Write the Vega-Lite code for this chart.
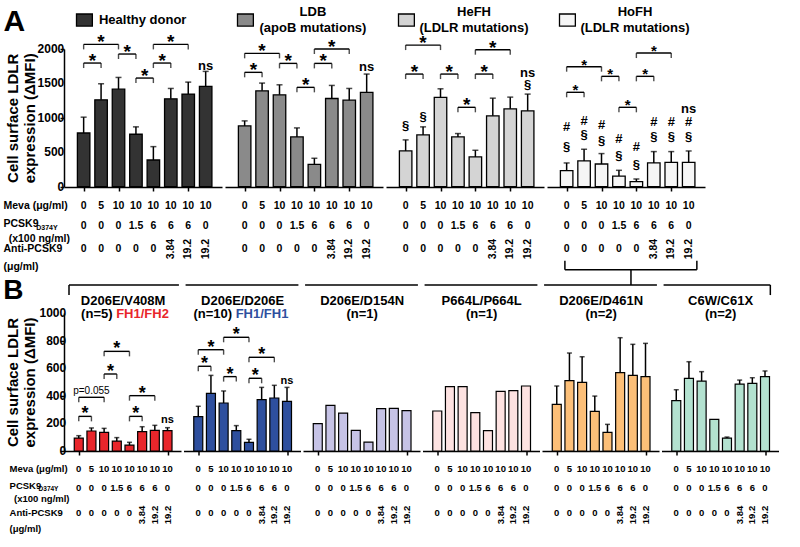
{
"$schema": "https://vega.github.io/schema/vega-lite/v6.json",
"background": "white",
"padding": {"left": 3, "top": 6, "right": 5, "bottom": 5},
"config": {
 "view": {"stroke": null},
 "font": "Liberation Sans",
 "text": {"font": "Liberation Sans", "fontWeight": "bold", "color": "black"},
 "tick": {"color": "black"},
 "rule": {"color": "black"},
 "axis": {"grid": false, "domainColor": "black", "tickColor": "black", "labelColor": "black", "titleColor": "black", "labelFont": "Liberation Sans", "titleFont": "Liberation Sans", "labelFontWeight": "bold", "labelFontSize": 12, "domainWidth": 1.5, "tickWidth": 1.5, "tickSize": 4, "labelPadding": 1, "titleFontSize": 15, "titleFontWeight": "bold", "titleLineHeight": 17, "titlePadding": 22}
},
"resolve": {"scale": {"color": "independent"}},
"datasets": {
 "cond": [
  {"i":1,"m":"0","p":"0","a":"0"},{"i":2,"m":"5","p":"0","a":"0"},{"i":3,"m":"10","p":"0","a":"0"},{"i":4,"m":"10","p":"1.5","a":"0"},
  {"i":5,"m":"10","p":"6","a":"0"},{"i":6,"m":"10","p":"6","a":"3.84"},{"i":7,"m":"10","p":"6","a":"19.2"},{"i":8,"m":"10","p":"0","a":"19.2"}
 ],
 "A": [
  {"k":"bar","g":1,"i":1,"v":780,"hi":1010},{"k":"bar","g":1,"i":2,"v":1262,"hi":1495},{"k":"bar","g":1,"i":3,"v":1417,"hi":1587},{"k":"bar","g":1,"i":4,"v":762,"hi":869},
  {"k":"bar","g":1,"i":5,"v":388,"hi":582},{"k":"bar","g":1,"i":6,"v":1277,"hi":1427},{"k":"bar","g":1,"i":7,"v":1345,"hi":1519},{"k":"bar","g":1,"i":8,"v":1456,"hi":1675},
  {"k":"bar","g":2,"i":1,"v":883,"hi":956},{"k":"bar","g":2,"i":2,"v":1393,"hi":1505},{"k":"bar","g":2,"i":3,"v":1335,"hi":1480},{"k":"bar","g":2,"i":4,"v":723,"hi":854},
  {"k":"bar","g":2,"i":5,"v":325,"hi":413},{"k":"bar","g":2,"i":6,"v":1281,"hi":1471},{"k":"bar","g":2,"i":7,"v":1257,"hi":1427},{"k":"bar","g":2,"i":8,"v":1369,"hi":1636},
  {"k":"bar","g":3,"i":1,"v":519,"hi":680},{"k":"bar","g":3,"i":2,"v":752,"hi":869},{"k":"bar","g":3,"i":3,"v":1296,"hi":1422},{"k":"bar","g":3,"i":4,"v":723,"hi":772},
  {"k":"bar","g":3,"i":5,"v":432,"hi":529},{"k":"bar","g":3,"i":6,"v":1029,"hi":1286},{"k":"bar","g":3,"i":7,"v":1131,"hi":1301},{"k":"bar","g":3,"i":8,"v":1102,"hi":1345},
  {"k":"bar","g":4,"i":1,"v":233,"hi":345},{"k":"bar","g":4,"i":2,"v":374,"hi":544},{"k":"bar","g":4,"i":3,"v":330,"hi":481},{"k":"bar","g":4,"i":4,"v":155,"hi":238},
  {"k":"bar","g":4,"i":5,"v":73,"hi":112},{"k":"bar","g":4,"i":6,"v":345,"hi":510},{"k":"bar","g":4,"i":7,"v":354,"hi":510},{"k":"bar","g":4,"i":8,"v":354,"hi":519},
  {"k":"br","g":1,"i1":1,"i2":2,"lv":1796,"t":"*"},{"k":"br","g":1,"i1":1,"i2":3,"lv":2067,"t":"*"},{"k":"br","g":1,"i1":3,"i2":4,"lv":1927,"t":"*"},
  {"k":"br","g":1,"i1":4,"i2":5,"lv":1578,"t":"*"},{"k":"br","g":1,"i1":5,"i2":6,"lv":1796,"t":"*"},{"k":"br","g":1,"i1":5,"i2":7,"lv":2067,"t":"*"},
  {"k":"br","g":2,"i1":1,"i2":2,"lv":1661,"t":"*"},{"k":"br","g":2,"i1":1,"i2":3,"lv":1937,"t":"*"},{"k":"br","g":2,"i1":3,"i2":4,"lv":1791,"t":"*"},
  {"k":"br","g":2,"i1":4,"i2":5,"lv":1443,"t":"*"},{"k":"br","g":2,"i1":5,"i2":6,"lv":1791,"t":"*"},{"k":"br","g":2,"i1":5,"i2":7,"lv":2000,"t":"*"},
  {"k":"br","g":3,"i1":1,"i2":2,"lv":1636,"t":"*"},{"k":"br","g":3,"i1":1,"i2":3,"lv":2057,"t":"*"},{"k":"br","g":3,"i1":3,"i2":4,"lv":1636,"t":"*"},
  {"k":"br","g":3,"i1":4,"i2":5,"lv":1153,"t":"*"},{"k":"br","g":3,"i1":5,"i2":6,"lv":1636,"t":"*"},{"k":"br","g":3,"i1":5,"i2":7,"lv":1990,"t":"*"},
  {"k":"br","g":4,"i1":1,"i2":2,"lv":1371,"t":"*"},{"k":"br","g":4,"i1":1,"i2":3,"lv":1743,"t":"*"},{"k":"br","g":4,"i1":3,"i2":4,"lv":1603,"t":"*"},
  {"k":"br","g":4,"i1":4,"i2":5,"lv":1153,"t":"*"},{"k":"br","g":4,"i1":5,"i2":6,"lv":1603,"t":"*"},{"k":"br","g":4,"i1":5,"i2":7,"lv":1941,"t":"*"},
  {"k":"an","g":1,"i":8,"lv":1757,"t":"ns"},{"k":"an","g":2,"i":8,"lv":1734,"t":"ns"},
  {"k":"an","g":3,"i":1,"lv":877,"t":"§"},{"k":"an","g":3,"i":2,"lv":1008,"t":"§"},{"k":"an","g":3,"i":8,"lv":1651,"t":"ns"},{"k":"an","g":3,"i":8,"lv":1481,"t":"§"},
  {"k":"an","g":4,"i":1,"lv":862,"t":"#"},{"k":"an","g":4,"i":1,"lv":572,"t":"§"},{"k":"an","g":4,"i":2,"lv":958,"t":"#"},{"k":"an","g":4,"i":2,"lv":751,"t":"§"},
  {"k":"an","g":4,"i":3,"lv":896,"t":"#"},{"k":"an","g":4,"i":3,"lv":668,"t":"§"},{"k":"an","g":4,"i":4,"lv":693,"t":"#"},{"k":"an","g":4,"i":4,"lv":441,"t":"§"},
  {"k":"an","g":4,"i":5,"lv":572,"t":"#"},{"k":"an","g":4,"i":5,"lv":315,"t":"§"},{"k":"an","g":4,"i":6,"lv":935,"t":"#"},{"k":"an","g":4,"i":6,"lv":717,"t":"§"},
  {"k":"an","g":4,"i":7,"lv":935,"t":"#"},{"k":"an","g":4,"i":7,"lv":717,"t":"§"},{"k":"an","g":4,"i":8,"lv":1128,"t":"ns"},{"k":"an","g":4,"i":8,"lv":935,"t":"#"},{"k":"an","g":4,"i":8,"lv":717,"t":"§"},
  {"k":"lg","g":1,"t1":"Healthy donor","t2":""},{"k":"lg","g":2,"t1":"LDB","t2":"(apoB mutations)"},
  {"k":"lg","g":3,"t1":"HeFH","t2":"(LDLR mutations)"},{"k":"lg","g":4,"t1":"HoFH","t2":"(LDLR mutations)"}
 ],
 "B": [
  {"k":"bar","g":1,"i":1,"v":94,"hi":111},{"k":"bar","g":1,"i":2,"v":145,"hi":167},{"k":"bar","g":1,"i":3,"v":135,"hi":164},{"k":"bar","g":1,"i":4,"v":72,"hi":97},
  {"k":"bar","g":1,"i":5,"v":43,"hi":63},{"k":"bar","g":1,"i":6,"v":140,"hi":176},{"k":"bar","g":1,"i":7,"v":150,"hi":186},{"k":"bar","g":1,"i":8,"v":147,"hi":169},
  {"k":"bar","g":2,"i":1,"v":249,"hi":324},{"k":"bar","g":2,"i":2,"v":418,"hi":548},{"k":"bar","g":2,"i":3,"v":348,"hi":435},{"k":"bar","g":2,"i":4,"v":147,"hi":184},
  {"k":"bar","g":2,"i":5,"v":63,"hi":85},{"k":"bar","g":2,"i":6,"v":372,"hi":461},{"k":"bar","g":2,"i":7,"v":384,"hi":476},{"k":"bar","g":2,"i":8,"v":360,"hi":461},
  {"k":"bar","g":3,"i":1,"v":198,"hi":null},{"k":"bar","g":3,"i":2,"v":331,"hi":null},{"k":"bar","g":3,"i":3,"v":275,"hi":null},{"k":"bar","g":3,"i":4,"v":150,"hi":null},
  {"k":"bar","g":3,"i":5,"v":65,"hi":null},{"k":"bar","g":3,"i":6,"v":307,"hi":null},{"k":"bar","g":3,"i":7,"v":309,"hi":null},{"k":"bar","g":3,"i":8,"v":292,"hi":null},
  {"k":"bar","g":4,"i":1,"v":290,"hi":null},{"k":"bar","g":4,"i":2,"v":466,"hi":null},{"k":"bar","g":4,"i":3,"v":466,"hi":null},{"k":"bar","g":4,"i":4,"v":278,"hi":null},
  {"k":"bar","g":4,"i":5,"v":147,"hi":null},{"k":"bar","g":4,"i":6,"v":432,"hi":null},{"k":"bar","g":4,"i":7,"v":437,"hi":null},{"k":"bar","g":4,"i":8,"v":471,"hi":null},
  {"k":"bar","g":5,"i":1,"v":338,"hi":471},{"k":"bar","g":5,"i":2,"v":510,"hi":710},{"k":"bar","g":5,"i":3,"v":497,"hi":683},{"k":"bar","g":5,"i":4,"v":287,"hi":398},
  {"k":"bar","g":5,"i":5,"v":135,"hi":193},{"k":"bar","g":5,"i":6,"v":568,"hi":821},{"k":"bar","g":5,"i":7,"v":548,"hi":773},{"k":"bar","g":5,"i":8,"v":539,"hi":780},
  {"k":"bar","g":6,"i":1,"v":365,"hi":444},{"k":"bar","g":6,"i":2,"v":526,"hi":647},{"k":"bar","g":6,"i":3,"v":507,"hi":575},{"k":"bar","g":6,"i":4,"v":229,"hi":null},
  {"k":"bar","g":6,"i":5,"v":94,"hi":101},{"k":"bar","g":6,"i":6,"v":485,"hi":514},{"k":"bar","g":6,"i":7,"v":490,"hi":531},{"k":"bar","g":6,"i":8,"v":539,"hi":580},
  {"k":"br","g":1,"i1":1,"i2":2,"lv":251,"t":"*"},{"k":"br","g":1,"i1":1,"i2":3,"lv":389,"t":"p=0.055"},{"k":"br","g":1,"i1":3,"i2":4,"lv":558,"t":"*"},
  {"k":"br","g":1,"i1":3,"i2":5,"lv":722,"t":"*"},{"k":"br","g":1,"i1":5,"i2":6,"lv":251,"t":"*"},{"k":"br","g":1,"i1":5,"i2":7,"lv":401,"t":"*"},
  {"k":"br","g":2,"i1":1,"i2":2,"lv":614,"t":"*"},{"k":"br","g":2,"i1":1,"i2":3,"lv":734,"t":"*"},{"k":"br","g":2,"i1":3,"i2":5,"lv":824,"t":"*"},
  {"k":"br","g":2,"i1":3,"i2":4,"lv":539,"t":"*"},{"k":"br","g":2,"i1":5,"i2":6,"lv":527,"t":"*"},{"k":"br","g":2,"i1":5,"i2":7,"lv":679,"t":"*"},
  {"k":"an","g":1,"i":8,"lv":225,"t":"ns"},{"k":"an","g":2,"i":8,"lv":510,"t":"ns"},
  {"k":"lb","g":1,"t1":"D206E/V408M","n":"(n=5)","fh":"FH1/FH2"},{"k":"lb","g":2,"t1":"D206E/D206E","n":"(n=10)","fh":"FH1/FH1"},
  {"k":"lb","g":3,"t1":"D206E/D154N","n":"(n=1)","fh":""},{"k":"lb","g":4,"t1":"P664L/P664L","n":"(n=1)","fh":""},
  {"k":"lb","g":5,"t1":"D206E/D461N","n":"(n=2)","fh":""},{"k":"lb","g":6,"t1":"C6W/C61X","n":"(n=2)","fh":""}
 ]
},
"spacing": 264,
"bounds": "flush",
"vconcat": [
 {
  "data": {"name": "A"},
  "transform": [{"lookup": "i", "from": {"data": {"name": "cond"}, "key": "i", "fields": ["m", "p", "a"]}}],
  "facet": {"column": {"field": "g", "type": "ordinal", "header": null}},
  "spacing": 3,
  "bounds": "flush",
  "spec": {
   "width": 158, "height": 137.7,
   "layer": [
    {"transform": [{"filter": "datum.k == 'bar'"}],
     "mark": {"type": "bar", "width": 12.5, "stroke": "black", "strokeWidth": 1.3},
     "encoding": {
      "x": {"field": "i", "type": "quantitative", "scale": {"domain": [0.16, 8.65], "nice": false, "zero": false}, "axis": {"values": [1,2,3,4,5,6,7,8], "labels": false, "title": null}},
      "y": {"field": "v", "type": "quantitative", "scale": {"domain": [0, 2000], "nice": false}, "axis": {"values": [0,500,1000,1500,2000], "tickCount": 4, "labels": false, "title": ["Cell surface LDLR", "expression (ΔMFI)"]}},
      "color": {"field": "g", "type": "nominal", "scale": {"domain": [1,2,3,4], "range": ["#333333", "#8a8a8a", "#d4d4d4", "#f6f6f6"]}, "legend": null}
     }},
    {"transform": [{"filter": "datum.k == 'lg' && datum.g == 1"}],
     "mark": {"type": "text", "baseline": "middle", "align": "right", "fontSize": 12, "lineHeight": 34.425},
     "encoding": {"x": {"datum": -0.11}, "y": {"datum": 2000}, "text": {"value": ["2000", "1500", "1000", "500", "0"]}}},
    {"transform": [{"filter": "datum.k == 'bar'"}],
     "mark": {"type": "rule", "strokeWidth": 1.5},
     "encoding": {"x": {"field": "i", "type": "quantitative"}, "y": {"field": "v", "type": "quantitative"}, "y2": {"field": "hi"}}},
    {"transform": [{"filter": "datum.k == 'bar'"}],
     "mark": {"type": "tick", "orient": "horizontal", "size": 6, "thickness": 1.5},
     "encoding": {"x": {"field": "i", "type": "quantitative"}, "y": {"field": "hi", "type": "quantitative"}}},
    {"transform": [{"filter": "datum.k == 'br'"}],
     "mark": {"type": "rule", "strokeWidth": 1.4},
     "encoding": {"x": {"field": "i1", "type": "quantitative"}, "x2": {"field": "i2"}, "y": {"field": "lv", "type": "quantitative"}}},
    {"transform": [{"filter": "datum.k == 'br'"}],
     "mark": {"type": "tick", "orient": "vertical", "size": 5, "thickness": 1.4, "yOffset": 2.5},
     "encoding": {"x": {"field": "i1", "type": "quantitative"}, "y": {"field": "lv", "type": "quantitative"}}},
    {"transform": [{"filter": "datum.k == 'br'"}],
     "mark": {"type": "tick", "orient": "vertical", "size": 5, "thickness": 1.4, "yOffset": 2.5},
     "encoding": {"x": {"field": "i2", "type": "quantitative"}, "y": {"field": "lv", "type": "quantitative"}}},
    {"transform": [{"filter": "datum.k == 'br'"}, {"calculate": "(datum.i1 + datum.i2) / 2", "as": "mid"}],
     "mark": {"type": "text", "baseline": "middle", "dy": -2},
     "encoding": {"x": {"field": "mid", "type": "quantitative"}, "y": {"field": "lv", "type": "quantitative"}, "text": {"field": "t"},
      "size": {"condition": {"test": "datum.g == 4", "value": 15}, "value": 19}}},
    {"transform": [{"filter": "datum.k == 'an'"}],
     "mark": {"type": "text", "baseline": "middle", "fontSize": 13},
     "encoding": {"x": {"field": "i", "type": "quantitative"}, "y": {"field": "lv", "type": "quantitative"}, "text": {"field": "t"}}},
    {"transform": [{"filter": "datum.k == 'bar'"}],
     "mark": {"type": "text", "baseline": "middle", "fontSize": 10.5},
     "encoding": {"x": {"field": "i", "type": "quantitative"}, "y": {"datum": -280}, "text": {"field": "m"}}},
    {"transform": [{"filter": "datum.k == 'bar'"}],
     "mark": {"type": "text", "baseline": "middle", "fontSize": 10.5},
     "encoding": {"x": {"field": "i", "type": "quantitative"}, "y": {"datum": -571}, "text": {"field": "p"}}},
    {"transform": [{"filter": "datum.k == 'bar' && datum.a == '0'"}],
     "mark": {"type": "text", "baseline": "middle", "fontSize": 10.5},
     "encoding": {"x": {"field": "i", "type": "quantitative"}, "y": {"datum": -905}, "text": {"field": "a"}}},
    {"transform": [{"filter": "datum.k == 'bar' && datum.a != '0'"}],
     "mark": {"type": "text", "baseline": "middle", "align": "center", "angle": 270, "fontSize": 10.5},
     "encoding": {"x": {"field": "i", "type": "quantitative"}, "y": {"datum": -905}, "text": {"field": "a"}}},
    {"transform": [{"filter": "datum.k == 'lg'"}],
     "mark": {"type": "rect", "stroke": "black", "strokeWidth": 1.3},
     "encoding": {"x": {"datum": 0.59}, "x2": {"datum": 1.5}, "y": {"datum": 2333}, "y2": {"datum": 2508}, "color": {"field": "g", "type": "nominal", "legend": null}}},
    {"transform": [{"filter": "datum.k == 'lg' && datum.g > 1"}],
     "mark": {"type": "text", "baseline": "middle", "fontSize": 13},
     "encoding": {"x": {"datum": 4.92}, "y": {"datum": 2537}, "text": {"field": "t1"}}},
    {"transform": [{"filter": "datum.k == 'lg' && datum.g > 1"}],
     "mark": {"type": "text", "baseline": "middle", "fontSize": 13},
     "encoding": {"x": {"datum": 4.92}, "y": {"datum": 2312}, "text": {"field": "t2"}}},
    {"transform": [{"filter": "datum.k == 'lg' && datum.g == 1"}],
     "mark": {"type": "text", "baseline": "middle", "align": "left", "fontSize": 13},
     "encoding": {"x": {"datum": 1.88}, "y": {"datum": 2420}, "text": {"field": "t1"}}},
    {"transform": [{"filter": "datum.k == 'lg' && datum.g == 1"}],
     "mark": {"type": "text", "baseline": "alphabetic", "align": "left", "fontSize": 30},
     "encoding": {"x": {"datum": -3.6}, "y": {"datum": 2261}, "text": {"value": "A"}}},
    {"transform": [{"filter": "datum.k == 'lg' && datum.g == 1"}],
     "mark": {"type": "text", "baseline": "middle", "align": "left", "fontSize": 10.5},
     "encoding": {"x": {"datum": -3.6}, "y": {"datum": -280}, "text": {"value": "Meva (μg/ml)"}}},
    {"transform": [{"filter": "datum.k == 'lg' && datum.g == 1"}],
     "mark": {"type": "text", "baseline": "middle", "align": "left", "fontSize": 10.5},
     "encoding": {"x": {"datum": -3.6}, "y": {"datum": -545}, "text": {"value": "PCSK9"}}},
    {"transform": [{"filter": "datum.k == 'lg' && datum.g == 1"}],
     "mark": {"type": "text", "baseline": "middle", "align": "left", "fontSize": 7},
     "encoding": {"x": {"datum": -1.72}, "y": {"datum": -603}, "text": {"value": "D374Y"}}},
    {"transform": [{"filter": "datum.k == 'lg' && datum.g == 1"}],
     "mark": {"type": "text", "baseline": "middle", "align": "left", "fontSize": 10.5},
     "encoding": {"x": {"datum": -3.3}, "y": {"datum": -759}, "text": {"value": "(x100 ng/ml)"}}},
    {"transform": [{"filter": "datum.k == 'lg' && datum.g == 1"}],
     "mark": {"type": "text", "baseline": "middle", "align": "left", "fontSize": 10.5},
     "encoding": {"x": {"datum": -3.6}, "y": {"datum": -905}, "text": {"value": "Anti-PCSK9"}}},
    {"transform": [{"filter": "datum.k == 'lg' && datum.g == 1"}],
     "mark": {"type": "text", "baseline": "middle", "align": "left", "fontSize": 10.5},
     "encoding": {"x": {"datum": -3.6}, "y": {"datum": -1167}, "text": {"value": "(μg/ml)"}}},
    {"transform": [{"filter": "datum.k == 'lg' && datum.g == 4"}],
     "mark": {"type": "rule", "strokeWidth": 1.5},
     "encoding": {"x": {"datum": 0.9}, "x2": {"datum": 8.47}, "y": {"datum": -1205}}},
    {"transform": [{"filter": "datum.k == 'lg' && datum.g == 4"}],
     "mark": {"type": "rule", "strokeWidth": 1.5},
     "encoding": {"x": {"datum": 0.9}, "y": {"datum": -1205}, "y2": {"datum": -1075}}},
    {"transform": [{"filter": "datum.k == 'lg' && datum.g == 4"}],
     "mark": {"type": "rule", "strokeWidth": 1.5},
     "encoding": {"x": {"datum": 8.47}, "y": {"datum": -1205}, "y2": {"datum": -1075}}},
    {"transform": [{"filter": "datum.k == 'lg' && datum.g == 4"}],
     "mark": {"type": "rule", "strokeWidth": 1.5},
     "encoding": {"x": {"datum": 4.69}, "y": {"datum": -1205}, "y2": {"datum": -1427}}}
   ]
  }
 },
 {
  "data": {"name": "B"},
  "transform": [{"lookup": "i", "from": {"data": {"name": "cond"}, "key": "i", "fields": ["m", "p", "a"]}}],
  "facet": {"column": {"field": "g", "type": "ordinal", "header": null}},
  "spacing": 2.5,
  "bounds": "flush",
  "spec": {
   "width": 117, "height": 138,
   "layer": [
    {"transform": [{"filter": "datum.k == 'bar'"}],
     "mark": {"type": "bar", "width": 9, "stroke": "black", "strokeWidth": 1.2},
     "encoding": {
      "x": {"field": "i", "type": "quantitative", "scale": {"domain": [0.23, 8.67], "nice": false, "zero": false}, "axis": {"values": [1,2,3,4,5,6,7,8], "labels": false, "title": null}},
      "y": {"field": "v", "type": "quantitative", "scale": {"domain": [0, 1000], "nice": false}, "axis": {"values": [0,200,400,600,800,1000], "tickCount": 5, "labels": false, "title": ["Cell surface LDLR", "expression (ΔMFI)"]}},
      "color": {"field": "g", "type": "nominal", "scale": {"domain": [1,2,3,4,5,6], "range": ["#e8262b", "#2e4f9e", "#c6c3e6", "#fde2e1", "#fcbf78", "#b3e2d0"]}, "legend": null}
     }},
    {"transform": [{"filter": "datum.k == 'lb' && datum.g == 1"}],
     "mark": {"type": "text", "baseline": "middle", "align": "right", "fontSize": 12, "lineHeight": 27.6},
     "encoding": {"x": {"datum": 0.01}, "y": {"datum": 1000}, "text": {"value": ["1000", "800", "600", "400", "200", "0"]}}},
    {"transform": [{"filter": "datum.k == 'bar' && datum.hi != null"}],
     "mark": {"type": "rule", "strokeWidth": 1.5},
     "encoding": {"x": {"field": "i", "type": "quantitative"}, "y": {"field": "v", "type": "quantitative"}, "y2": {"field": "hi"}}},
    {"transform": [{"filter": "datum.k == 'bar' && datum.hi != null"}],
     "mark": {"type": "tick", "orient": "horizontal", "size": 5, "thickness": 1.5},
     "encoding": {"x": {"field": "i", "type": "quantitative"}, "y": {"field": "hi", "type": "quantitative"}}},
    {"transform": [{"filter": "datum.k == 'br'"}],
     "mark": {"type": "rule", "strokeWidth": 1.4},
     "encoding": {"x": {"field": "i1", "type": "quantitative"}, "x2": {"field": "i2"}, "y": {"field": "lv", "type": "quantitative"}}},
    {"transform": [{"filter": "datum.k == 'br'"}],
     "mark": {"type": "tick", "orient": "vertical", "size": 5, "thickness": 1.4, "yOffset": 2.5},
     "encoding": {"x": {"field": "i1", "type": "quantitative"}, "y": {"field": "lv", "type": "quantitative"}}},
    {"transform": [{"filter": "datum.k == 'br'"}],
     "mark": {"type": "tick", "orient": "vertical", "size": 5, "thickness": 1.4, "yOffset": 2.5},
     "encoding": {"x": {"field": "i2", "type": "quantitative"}, "y": {"field": "lv", "type": "quantitative"}}},
    {"transform": [{"filter": "datum.k == 'br' && datum.t == '*'"}, {"calculate": "(datum.i1 + datum.i2) / 2", "as": "mid"}],
     "mark": {"type": "text", "baseline": "middle", "dy": -2, "fontSize": 18},
     "encoding": {"x": {"field": "mid", "type": "quantitative"}, "y": {"field": "lv", "type": "quantitative"}, "text": {"field": "t"}}},
    {"transform": [{"filter": "datum.k == 'br' && datum.t != '*'"}, {"calculate": "(datum.i1 + datum.i2) / 2", "as": "mid"}],
     "mark": {"type": "text", "baseline": "middle", "dy": -6, "fontSize": 10, "fontWeight": "normal"},
     "encoding": {"x": {"field": "mid", "type": "quantitative"}, "y": {"field": "lv", "type": "quantitative"}, "text": {"field": "t"}}},
    {"transform": [{"filter": "datum.k == 'an'"}],
     "mark": {"type": "text", "baseline": "middle", "fontSize": 11},
     "encoding": {"x": {"field": "i", "type": "quantitative"}, "y": {"field": "lv", "type": "quantitative"}, "text": {"field": "t"}}},
    {"transform": [{"filter": "datum.k == 'bar'"}],
     "mark": {"type": "text", "baseline": "middle", "fontSize": 9.5},
     "encoding": {"x": {"field": "i", "type": "quantitative"}, "y": {"datum": -130}, "text": {"field": "m"}}},
    {"transform": [{"filter": "datum.k == 'bar'"}],
     "mark": {"type": "text", "baseline": "middle", "fontSize": 9.5},
     "encoding": {"x": {"field": "i", "type": "quantitative"}, "y": {"datum": -268}, "text": {"field": "p"}}},
    {"transform": [{"filter": "datum.k == 'bar' && datum.a == '0'"}],
     "mark": {"type": "text", "baseline": "middle", "fontSize": 9.5},
     "encoding": {"x": {"field": "i", "type": "quantitative"}, "y": {"datum": -449}, "text": {"field": "a"}}},
    {"transform": [{"filter": "datum.k == 'bar' && datum.a != '0'"}],
     "mark": {"type": "text", "baseline": "middle", "align": "center", "angle": 270, "fontSize": 9.5},
     "encoding": {"x": {"field": "i", "type": "quantitative"}, "y": {"datum": -464}, "text": {"field": "a"}}},
    {"transform": [{"filter": "datum.k == 'lb'"}],
     "mark": {"type": "text", "baseline": "middle", "fontSize": 13},
     "encoding": {"x": {"datum": 4.5}, "y": {"datum": 1089}, "text": {"field": "t1"}}},
    {"transform": [{"filter": "datum.k == 'lb' && datum.g > 2"}],
     "mark": {"type": "text", "baseline": "middle", "fontSize": 13},
     "encoding": {"x": {"datum": 4.5}, "y": {"datum": 993}, "text": {"field": "n"}}},
    {"transform": [{"filter": "datum.k == 'lb' && datum.g <= 2"}],
     "mark": {"type": "text", "baseline": "middle", "align": "right", "dx": -10.6, "fontSize": 13},
     "encoding": {"x": {"datum": 4.5}, "y": {"datum": 993}, "text": {"field": "n"}}},
    {"transform": [{"filter": "datum.k == 'lb' && datum.g <= 2"}],
     "mark": {"type": "text", "baseline": "middle", "align": "left", "dx": -7, "fontSize": 13},
     "encoding": {"x": {"datum": 4.5}, "y": {"datum": 993}, "text": {"field": "fh"}, "color": {"field": "g", "type": "nominal", "legend": null}}},
    {"transform": [{"filter": "datum.k == 'lb'"}, {"calculate": "datum.g == 1 ? 0.23 : 0", "as": "lx1"}, {"calculate": "datum.g == 6 ? 8.42 : 8.9", "as": "lx2"}],
     "mark": {"type": "rule", "strokeWidth": 1.5},
     "encoding": {"x": {"field": "lx1", "type": "quantitative"}, "x2": {"field": "lx2"}, "y": {"datum": 1203}}},
    {"transform": [{"filter": "datum.k == 'lb' && datum.g == 1"}],
     "mark": {"type": "rule", "strokeWidth": 1.5},
     "encoding": {"x": {"datum": 0.23}, "y": {"datum": 1203}, "y2": {"datum": 1130}}},
    {"transform": [{"filter": "datum.k == 'lb' && datum.g == 6"}],
     "mark": {"type": "rule", "strokeWidth": 1.5},
     "encoding": {"x": {"datum": 8.42}, "y": {"datum": 1203}, "y2": {"datum": 1130}}},
    {"transform": [{"filter": "datum.k == 'lb' && datum.g == 1"}],
     "mark": {"type": "text", "baseline": "alphabetic", "align": "left", "fontSize": 28},
     "encoding": {"x": {"datum": -4.96}, "y": {"datum": 1101}, "text": {"value": "B"}}},
    {"transform": [{"filter": "datum.k == 'lb' && datum.g == 1"}],
     "mark": {"type": "text", "baseline": "middle", "align": "left", "fontSize": 9.5},
     "encoding": {"x": {"datum": -4.46}, "y": {"datum": -130}, "text": {"value": "Meva (μg/ml)"}}},
    {"transform": [{"filter": "datum.k == 'lb' && datum.g == 1"}],
     "mark": {"type": "text", "baseline": "middle", "align": "left", "fontSize": 9.5},
     "encoding": {"x": {"datum": -4.46}, "y": {"datum": -254}, "text": {"value": "PCSK9"}}},
    {"transform": [{"filter": "datum.k == 'lb' && datum.g == 1"}],
     "mark": {"type": "text", "baseline": "middle", "align": "left", "fontSize": 6.5},
     "encoding": {"x": {"datum": -2.17}, "y": {"datum": -275}, "text": {"value": "D374Y"}}},
    {"transform": [{"filter": "datum.k == 'lb' && datum.g == 1"}],
     "mark": {"type": "text", "baseline": "middle", "align": "left", "fontSize": 9.5},
     "encoding": {"x": {"datum": -4.1}, "y": {"datum": -348}, "text": {"value": "(x100 ng/ml)"}}},
    {"transform": [{"filter": "datum.k == 'lb' && datum.g == 1"}],
     "mark": {"type": "text", "baseline": "middle", "align": "left", "fontSize": 9.5},
     "encoding": {"x": {"datum": -4.46}, "y": {"datum": -449}, "text": {"value": "Anti-PCSK9"}}},
    {"transform": [{"filter": "datum.k == 'lb' && datum.g == 1"}],
     "mark": {"type": "text", "baseline": "middle", "align": "left", "fontSize": 9.5},
     "encoding": {"x": {"datum": -4.46}, "y": {"datum": -565}, "text": {"value": "(μg/ml)"}}}
   ]
  }
 }
]
}
